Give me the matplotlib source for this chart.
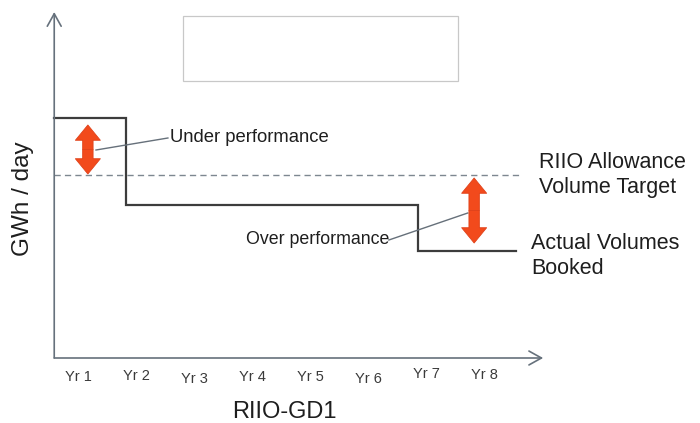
import matplotlib
matplotlib.use("Agg")
import matplotlib.pyplot as plt
from matplotlib.patches import FancyArrowPatch, Rectangle

# x in "year" units (Yr 1 label sits at x=1), y in GWh/day (arbitrary scale)
years = ["Yr 1", "Yr 2", "Yr 3", "Yr 4", "Yr 5", "Yr 6", "Yr 7", "Yr 8"]
year_pos = [1, 2, 3, 4, 5, 6, 7, 8]

step_x = [0.59, 1.83, 1.83, 6.86, 6.86, 8.55]
step_y = [24.0, 24.0, 15.3, 15.3, 10.7, 10.7]

target_x = [0.59, 8.66]
target_y = [18.3, 18.3]

# red double arrows: (x, y_top, y_bottom)
under_arrow = (1.17, 23.3, 18.4)
over_arrow = (7.83, 18.0, 11.5)

plt.rcParams["font.family"] = ["Liberation Sans", "DejaVu Sans"]

fig = plt.figure(figsize=(7.0, 4.23), dpi=100)
ax = fig.add_axes([0, 0, 1, 1])
ax.set_xlim(-0.345, 11.724)
ax.set_ylim(-6.5, 35.8)
ax.axis("off")

axis_col = "#66717c"
x0, y0 = 0.59, 0.0
# axes with open arrow heads
ax.annotate("", xy=(x0, 34.6), xytext=(x0, y0),
            arrowprops=dict(arrowstyle="->,head_length=0.9,head_width=0.5",
                            color=axis_col, lw=1.2, shrinkA=0, shrinkB=0))
ax.annotate("", xy=(9.02, y0), xytext=(x0, y0),
            arrowprops=dict(arrowstyle="->,head_length=0.9,head_width=0.5",
                            color=axis_col, lw=1.2, shrinkA=0, shrinkB=0))

# empty placeholder box at the top
ax.add_patch(Rectangle((2.81, 27.7), 4.74, 6.5, fc="white", ec="#c8c8c8", lw=0.9))

ax.plot(target_x, target_y, color="#7d8790", lw=1.0, dashes=(4.5, 3))
ax.plot(step_x, step_y, color="#3c3c3c", lw=1.6, solid_joinstyle="miter")

red = "#f24a1c"


def double_arrow(x, ytop, ybot):
    mid = (ytop + ybot) / 2
    for end in (ytop, ybot):
        ax.add_patch(FancyArrowPatch(
            (x, mid), (x, end),
            arrowstyle="simple,head_width=18,head_length=11,tail_width=7.5",
            mutation_scale=1, fc=red, ec="#e0421a", lw=0.6,
            shrinkA=0, shrinkB=0, zorder=4))


double_arrow(*under_arrow)
double_arrow(*over_arrow)

lead_col = "#66707a"
ax.plot([1.31, 2.55], [20.8, 22.0], color=lead_col, lw=1.0)
ax.text(2.58, 22.0, "Under performance", fontsize=13.3, va="center", ha="left",
        color="#1e1e1e")
ax.plot([6.36, 7.72], [11.8, 14.5], color=lead_col, lw=1.0)
ax.text(6.36, 11.8, "Over performance", fontsize=12.8, va="center", ha="right",
        color="#1e1e1e")

ax.text(8.95, 18.3, "RIIO Allowance\nVolume Target", fontsize=15.5, va="center",
        ha="left", color="#1e1e1e", linespacing=1.3)
ax.text(8.81, 10.2, "Actual Volumes\nBooked", fontsize=15.5, va="center",
        ha="left", color="#1e1e1e", linespacing=1.3)

label_dy = [0, 0.1, -0.2, 0, 0, -0.2, 0.3, 0.2]
for p, lab, dy in zip(year_pos, years, label_dy):
    ax.text(p, -1.9 + dy, lab, fontsize=10.5, ha="center", va="center", color="#3a3a3a")

ax.text(4.55, -5.4, "RIIO-GD1", fontsize=17, ha="center", va="center", color="#1e1e1e")
ax.text(0.06, 15.9, "GWh / day", fontsize=17.5, ha="center", va="center",
        rotation=90, color="#1e1e1e")

fig.savefig("out.png", dpi=100)
